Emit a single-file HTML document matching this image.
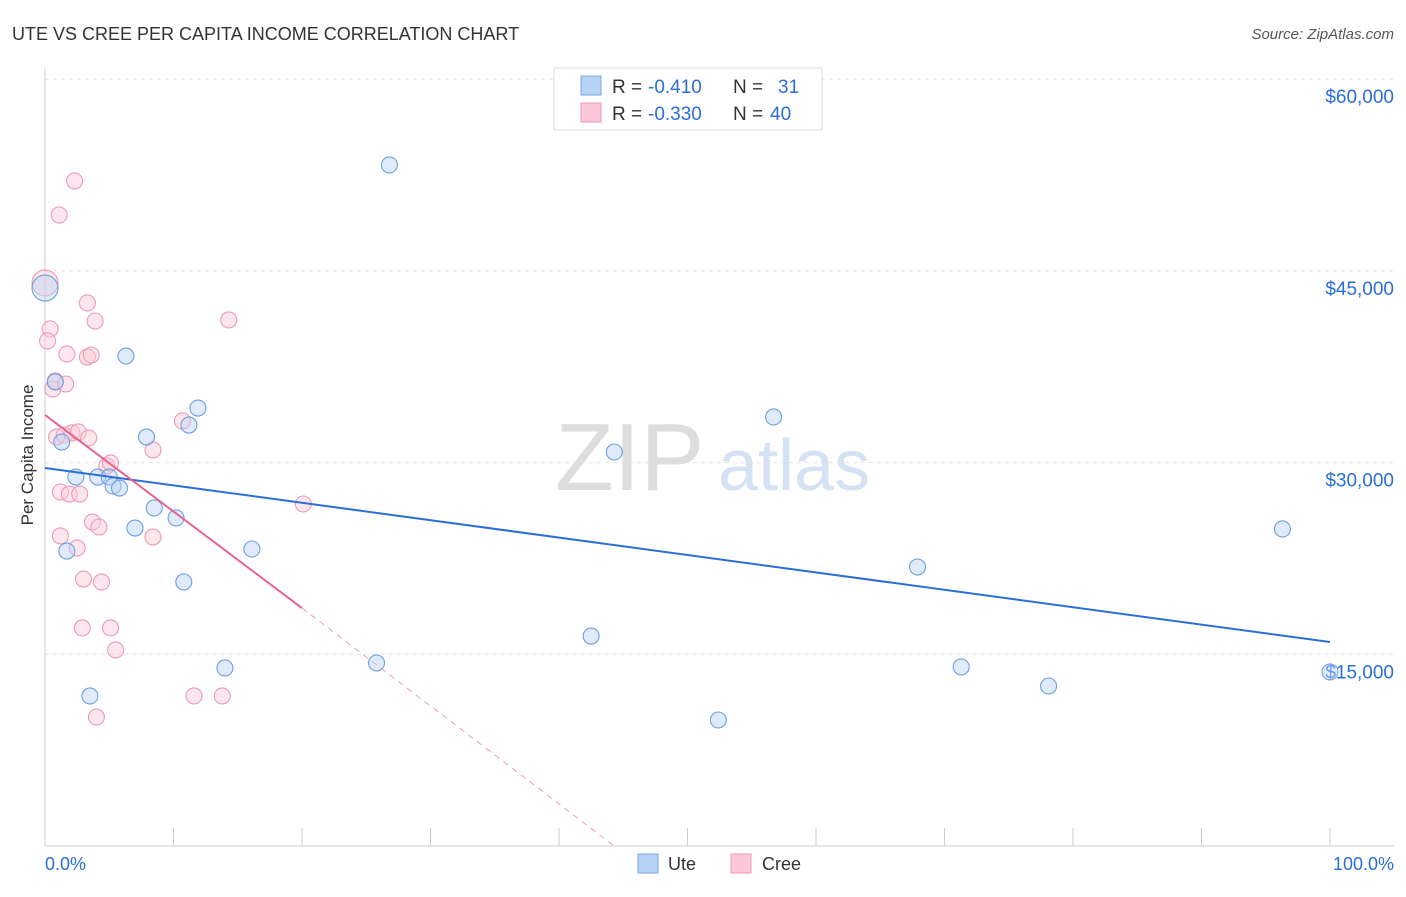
<!DOCTYPE html>
<html><head><meta charset="utf-8"><style>
body{margin:0;background:#fff;font-family:"Liberation Sans",sans-serif}
svg text{font-family:"Liberation Sans",sans-serif}
</style></head><body>
<svg id="c" width="1406" height="892">
<text x="12" y="40" font-size="18" fill="#333">UTE VS CREE PER CAPITA INCOME CORRELATION CHART</text>
<text x="1394" y="39" font-size="15" fill="#555" font-style="italic" text-anchor="end">Source: ZipAtlas.com</text>
<text x="33" y="455" font-size="17" fill="#333" text-anchor="middle" transform="rotate(-90 33 455)">Per Capita Income</text>
<text x="555" y="490" font-size="96" fill="#ddd" font-family="Liberation Serif">ZIP</text>
<text x="718" y="490" font-size="72" fill="#d5e2f3">atlas</text>
<g id="grid"></g><g id="marks"></g>
<g>
<rect x="554" y="68" width="268" height="62" fill="#fff" stroke="#ddd"/>
<rect x="581" y="76" width="20" height="19" fill="#b8d2f5" stroke="#7aa6e0"/>
<rect x="581" y="103" width="20" height="19" fill="#fbc9d8" stroke="#ee9ab4"/>
<text x="612" y="93" font-size="19" fill="#333">R =</text>
<text x="648" y="93" font-size="19" fill="#2a6fd6">-0.410</text>
<text x="733" y="93" font-size="19" fill="#333">N =</text>
<text x="778" y="93" font-size="19" fill="#2a6fd6">31</text>
<text x="612" y="120" font-size="19" fill="#333">R =</text>
<text x="648" y="120" font-size="19" fill="#2a6fd6">-0.330</text>
<text x="733" y="120" font-size="19" fill="#333">N =</text>
<text x="770" y="120" font-size="19" fill="#2a6fd6">40</text>
</g>
<g>
<rect x="638" y="854" width="20" height="19" fill="#b8d2f5" stroke="#7aa6e0"/>
<text x="668" y="870" font-size="18" fill="#333">Ute</text>
<rect x="731" y="854" width="20" height="19" fill="#fbc9d8" stroke="#ee9ab4"/>
<text x="762" y="870" font-size="18" fill="#333">Cree</text>
</g>
<text x="45" y="870" font-size="18" fill="#2a6fd6">0.0%</text>
<text x="1394" y="870" font-size="18" fill="#2a6fd6" text-anchor="end">100.0%</text>
</svg>
<script>
const yTicks=[15000,30000,45000,60000];
const yTickLabels=["$15,000","$30,000","$45,000","$60,000"];
const uteX=[0,0.8,1.3,1.7,2.4,3.5,4.1,5.0,5.3,5.8,6.3,7.0,7.9,8.5,10.2,10.8,11.2,11.9,14.0,16.1,25.8,26.8,42.5,44.3,52.4,56.7,67.9,71.3,78.1,96.3,100];
const uteY=[43660,36310,31610,23080,28870,11740,28870,28870,28170,28010,38340,24880,32000,26450,25670,20660,32940,34270,13930,23240,14320,53290,16430,30830,9860,33570,21830,14010,12520,24810,13620];
const creeX=[0,0.4,0.2,0.6,0.8,1.1,0.9,1.2,1.2,1.5,1.7,1.6,1.9,2.1,2.3,2.5,2.6,2.7,2.9,3.0,3.3,3.3,3.4,3.6,3.7,3.9,4.0,4.4,4.8,5.1,5.1,5.5,8.4,8.4,10.7,11.6,13.8,14.3,20.1,4.2];
const creeY=[44060,40460,39520,35760,36390,49380,32000,27700,24260,32160,38500,36150,27540,32320,52040,23320,32400,27540,17060,20890,42490,38260,31930,38420,25350,41080,10090,20660,29740,17060,29970,15340,24180,30990,33260,11740,11740,41160,26760,24960];
const uteTrend=[29580,15960];
const creeTrend=[33730,18620];
const creeTrendEnd=[20,44.3];
const NS="http://www.w3.org/2000/svg";
const sx=p=>45+p/100*1285, sy=v=>846-v/15000*191.7;
function mk(t,a,p){const e=document.createElementNS(NS,t);for(const k in a)e.setAttribute(k,a[k]);p.appendChild(e);return e;}
const grid=document.getElementById('grid'),marks=document.getElementById('marks');
yTicks.forEach((v,i)=>{
 const l=mk('line',{x1:45,x2:1394,y1:sy(v),y2:sy(v),stroke:'#e2e2e2','stroke-dasharray':'4 4'},grid);
 
 
 const t=mk('text',{x:1394,y:sy(v)+24,'font-size':19,fill:'#2a6fd6','text-anchor':'end'},grid);
 t.textContent=yTickLabels[i];
 
 
});
mk('line',{x1:45,x2:45,y1:68,y2:846,stroke:'#ccc'},grid);
mk('line',{x1:45,x2:1394,y1:846,y2:846,stroke:'#ccc'},grid);
for(let i=0;i<=10;i++){const t=mk('line',{x1:sx(i*10),x2:sx(i*10),y1:828,y2:846,stroke:'#ccc'},grid);
 
 }
function pts(X,Y,fill,stroke,name){X.forEach((x,i)=>{
 const c=mk('circle',{cx:sx(x),cy:sy(Y[i]),r:i==0?13:8,fill:fill,'fill-opacity':0.45,stroke:stroke,'stroke-width':1.1},marks);
 
 });}
pts(creeX,creeY,'#fbc9d8','#ee9ab4','cree-point');
pts(uteX,uteY,'#b8d2f5','#6d9fe0','ute-point');
const ul=mk('line',{x1:sx(0),y1:sy(uteTrend[0]),x2:sx(100),y2:sy(uteTrend[1]),stroke:'#2a6fd6','stroke-width':2},marks);


const cl=mk('line',{x1:sx(0),y1:sy(creeTrend[0]),x2:sx(creeTrendEnd[0]),y2:sy(creeTrend[1]),stroke:'#e8638f','stroke-width':2},marks);


const cd=mk('line',{x1:sx(creeTrendEnd[0]),y1:sy(creeTrend[1]),x2:sx(creeTrendEnd[1]),y2:sy(0),stroke:'#e8a0b8','stroke-width':1,'stroke-dasharray':'6 5'},marks);


</script>
</body></html>
